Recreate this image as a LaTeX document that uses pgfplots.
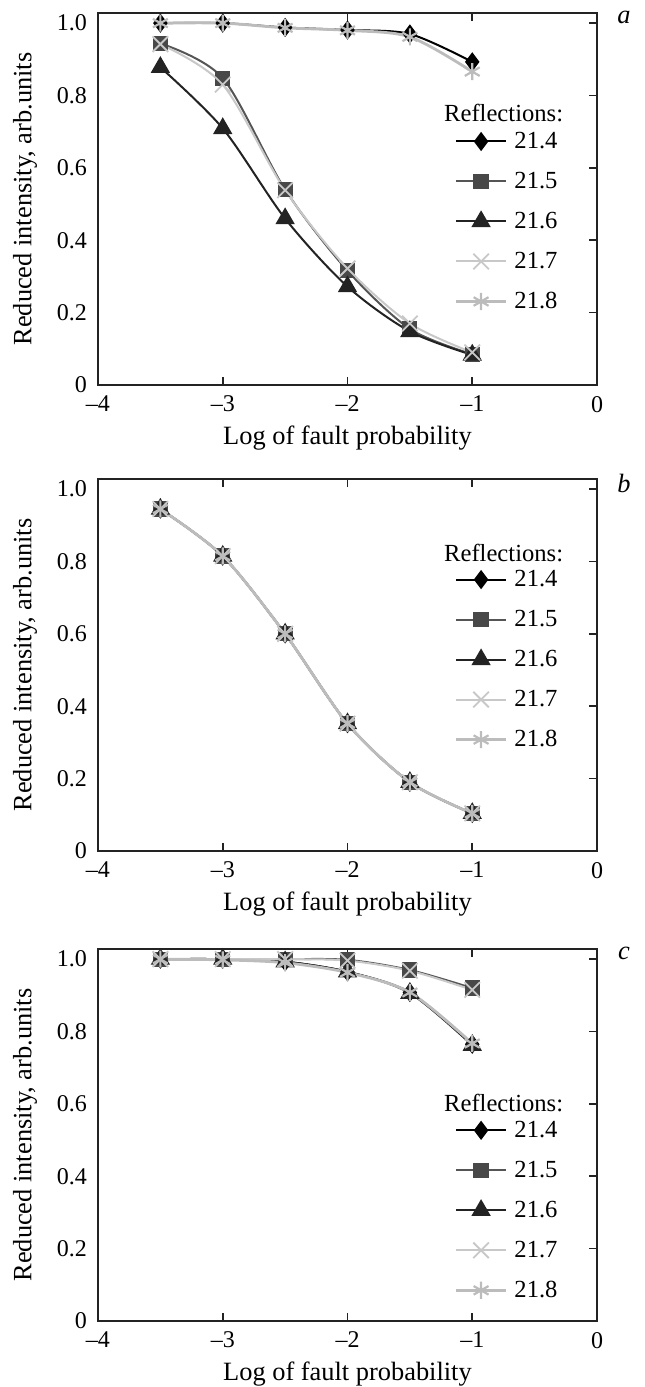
\documentclass[border=0pt]{standalone}
\usepackage{fontspec}
\setmainfont{Liberation Serif}
\usepackage{pgfplots}
\usepackage{pgfplotstable}
\pgfplotsset{compat=1.18}

\definecolor{axcol}{RGB}{35,35,35}
\definecolor{c4}{RGB}{0,0,0}
\definecolor{c5}{RGB}{85,85,85}
\definecolor{c6}{RGB}{35,35,35}
\definecolor{c7}{RGB}{200,200,200}
\definecolor{c8}{RGB}{188,188,188}

\newcommand{\fs}{\fontsize{12.3}{14}\selectfont}
\newcommand{\fl}{\fontsize{13.2}{15}\selectfont}
\newcommand{\ft}{\fontsize{12}{14}\selectfont}

% panel a
\pgfplotstableread{
x    s4    s5    s6    s7    s8
-3.5 1.000 0.944 0.878 0.942 1.000
-3.0 1.000 0.848 0.709 0.830 1.000
-2.5 0.988 0.540 0.460 0.538 0.987
-2.0 0.981 0.316 0.272 0.322 0.980
-1.5 0.970 0.155 0.148 0.170 0.962
-1.0 0.893 0.085 0.083 0.090 0.866
}\dataA

% panel b
\pgfplotstableread{
x    s4    s5    s6    s7    s8
-3.5 0.945 0.945 0.945 0.945 0.945
-3.0 0.815 0.815 0.815 0.815 0.815
-2.5 0.600 0.600 0.600 0.600 0.600
-2.0 0.352 0.352 0.352 0.352 0.352
-1.5 0.190 0.190 0.190 0.190 0.190
-1.0 0.104 0.104 0.104 0.104 0.104
}\dataB

% panel c
\pgfplotstableread{
x    s4    s5    s6    s7    s8
-3.5 1.000 1.000 1.000 1.000 1.000
-3.0 1.000 1.000 1.000 1.000 0.998
-2.5 0.993 1.000 0.993 1.000 0.990
-2.0 0.965 0.998 0.965 0.996 0.963
-1.5 0.908 0.970 0.906 0.968 0.908
-1.0 0.765 0.920 0.762 0.915 0.767
}\dataC

\pgfplotsset{
  panel/.style={
    scale only axis, width=249.5pt, height=186pt,
    anchor=north west, clip=false,
    xmin=-4, xmax=0, ymin=0, ymax=1.028,
    xtick={-4,-3,-2,-1,0}, xticklabels={–4,–3,–2,–1,0},
    ytick={0,0.2,0.4,0.6,0.8,1}, yticklabels={0,0.2,0.4,0.6,0.8,1.0},
    tick align=inside, xtick pos=both, xticklabel pos=bottom,
    ytick pos=right, yticklabel pos=left,
    major tick length=4pt,
    axis line style={axcol, line width=1pt},
    tick style={axcol, line width=0.8pt},
    every tick label/.append style={font=\ft, text=black},
    xticklabel style={yshift=-2pt},
    yticklabel style={xshift=-2pt},
    xlabel={Log of fault probability},
    ylabel={Reduced intensity, arb.units},
    every axis x label/.style={at={(axis description cs:0.5,0)}, anchor=center, yshift=-26.5pt, font=\fl},
    every axis y label/.style={at={(axis description cs:-0.1463,0.5)}, rotate=90, anchor=center, font=\fl},
    legend style={draw=none, fill=none, font=\fs, anchor=north west,
      inner sep=0pt, row sep=5pt, column sep=1.5pt,
      nodes={inner sep=2pt, text height=9pt, text depth=2pt}},
    legend cell align=left,
    legend image code/.code={\draw[mark repeat=2, mark phase=2] plot coordinates {(0pt,0pt) (12.5pt,0pt) (25pt,0pt)};},
  },
  s4/.style={c4, line width=1pt, smooth, tension=0.5, mark=diamond*, mark size=4pt, mark options={solid, fill=c4, draw=c4}},
  s5/.style={c5, line width=1pt, smooth, tension=0.5, mark=square*, mark size=3.3pt, mark options={solid, fill=c5!85!black, draw=c5!85!black}},
  s6/.style={c6, line width=1pt, smooth, tension=0.5, mark=triangle*, mark size=4.6pt, mark options={solid, fill=c6, draw=c6}},
  s7/.style={c7, line width=1pt, smooth, tension=0.5, mark=x, mark size=5.5pt, mark options={solid, draw=c7, line width=0.9pt}},
  s8/.style={c8, line width=1.4pt, smooth, tension=0.5, mark=asterisk, mark size=4.3pt, mark options={solid, draw=c8, line width=1.1pt}},
}

\begin{document}
\begin{tikzpicture}
\useasboundingbox (0,0) rectangle (322pt,-693.5pt);

% ---- a ----
\begin{axis}[panel, at={(49pt,-6.5pt)},
  legend style={at={(axis description cs:0.714,0.696)}}]
  \addplot[s4] table[x=x, y=s4] {\dataA};
  \addplot[s5] table[x=x, y=s5] {\dataA};
  \addplot[s6] table[x=x, y=s6] {\dataA};
  \addplot[s7] table[x=x, y=s7] {\dataA};
  \addplot[s8] table[x=x, y=s8] {\dataA};
  \legend{21.4,21.5,21.6,21.7,21.8}
  \node[font=\fs, anchor=west, inner sep=0pt] at (axis description cs:0.693,0.731) {Reflections:};
\end{axis}

% ---- b ----
\begin{axis}[panel, at={(49pt,-239.5pt)},
  legend style={at={(axis description cs:0.714,0.771)}}]
  \addplot[s4] table[x=x, y=s4] {\dataB};
  \addplot[s5] table[x=x, y=s5] {\dataB};
  \addplot[s6] table[x=x, y=s6] {\dataB};
  \addplot[s7] table[x=x, y=s7] {\dataB};
  \addplot[s8] table[x=x, y=s8] {\dataB};
  \legend{21.4,21.5,21.6,21.7,21.8}
  \node[font=\fs, anchor=west, inner sep=0pt] at (axis description cs:0.693,0.801) {Reflections:};
\end{axis}

% ---- c ----
\begin{axis}[panel, at={(49pt,-474.5pt)},
  legend style={at={(axis description cs:0.714,0.554)}}]
  \addplot[s4] table[x=x, y=s4] {\dataC};
  \addplot[s5] table[x=x, y=s5] {\dataC};
  \addplot[s6] table[x=x, y=s6] {\dataC};
  \addplot[s7] table[x=x, y=s7] {\dataC};
  \addplot[s8] table[x=x, y=s8] {\dataC};
  \legend{21.4,21.5,21.6,21.7,21.8}
  \node[font=\fs, anchor=west, inner sep=0pt] at (axis description cs:0.693,0.586) {Reflections:};
\end{axis}

\node[font=\fl\itshape] at (312pt,-8.5pt) {a};
\node[font=\fl\itshape] at (312pt,-241.5pt) {b};
\node[font=\fl\itshape] at (312pt,-476.5pt) {c};
\end{tikzpicture}
\end{document}
